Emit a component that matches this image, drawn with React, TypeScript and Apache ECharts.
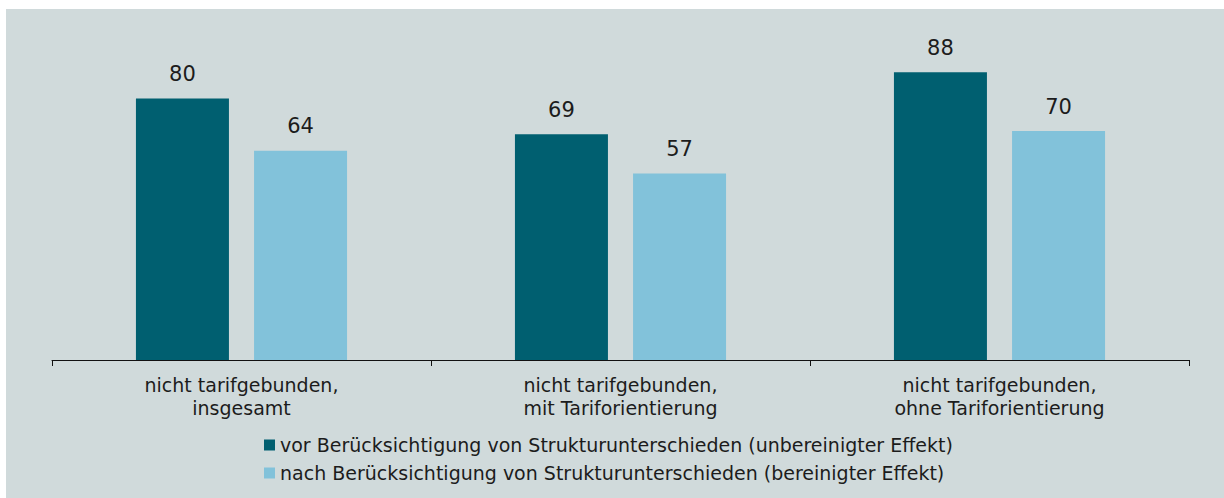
import React, { useEffect, useRef } from "react";
import * as echarts from "echarts";

const categories = [
  "nicht tarifgebunden,\ninsgesamt",
  "nicht tarifgebunden,\nmit Tariforientierung",
  "nicht tarifgebunden,\nohne Tariforientierung",
];
const seriesNames = [
  "vor Berücksichtigung von Strukturunterschieden (unbereinigter Effekt)",
  "nach Berücksichtigung von Strukturunterschieden (bereinigter Effekt)",
];
const unbereinigt = [80, 69, 88];
const bereinigt = [64, 57, 70];

const FONT = "DejaVu Sans";
const TEXT = "#1c1c1c";

export default function App() {
  const ref = useRef<HTMLDivElement>(null);
  useEffect(() => {
    if (!ref.current) return;
    const chart = echarts.init(ref.current, undefined, { renderer: "svg" });
    chart.setOption({
      animation: false,
      backgroundColor: "#ffffff",
      textStyle: { fontFamily: FONT, color: TEXT },
      graphic: [
        {
          type: "rect",
          z: -10,
          silent: true,
          shape: { x: 6, y: 9, width: 1218, height: 489 },
          style: { fill: "#d0dadb" },
        },
      ],
      grid: { left: 52, right: 35, top: 33, bottom: 138 },
      legend: {
        orient: "vertical",
        left: 259,
        top: 429,
        itemWidth: 11,
        itemHeight: 11,
        itemGap: 6,
        icon: "rect",
        textStyle: { fontFamily: FONT, fontSize: 19, color: TEXT, lineHeight: 22 },
        data: seriesNames,
      },
      xAxis: {
        type: "category",
        data: categories,
        axisLine: { show: true, lineStyle: { color: "#111", width: 1 } },
        axisTick: { show: true, length: 6, lineStyle: { color: "#111" } },
        axisLabel: {
          fontFamily: FONT,
          fontSize: 19,
          lineHeight: 23,
          color: TEXT,
          margin: 13,
        },
      },
      yAxis: {
        type: "value",
        min: 0,
        max: 100,
        show: false,
        splitLine: { show: false },
      },
      series: [
        {
          name: seriesNames[0],
          type: "bar",
          data: unbereinigt,
          barWidth: 93,
          barGap: "27%",
          itemStyle: { color: "#005f70" },
          label: {
            show: true,
            position: "top",
            distance: 14,
            fontFamily: FONT,
            fontSize: 21,
            color: TEXT,
          },
        },
        {
          name: seriesNames[1],
          type: "bar",
          data: bereinigt,
          barWidth: 93,
          itemStyle: { color: "#82c2da" },
          label: {
            show: true,
            position: "top",
            distance: 14,
            fontFamily: FONT,
            fontSize: 21,
            color: TEXT,
          },
        },
      ],
    });
    return () => chart.dispose();
  }, []);
  return (
    <div
      ref={ref}
      style={{ position: "absolute", left: 0, top: 0, width: 1224, height: 498 }}
    />
  );
}
